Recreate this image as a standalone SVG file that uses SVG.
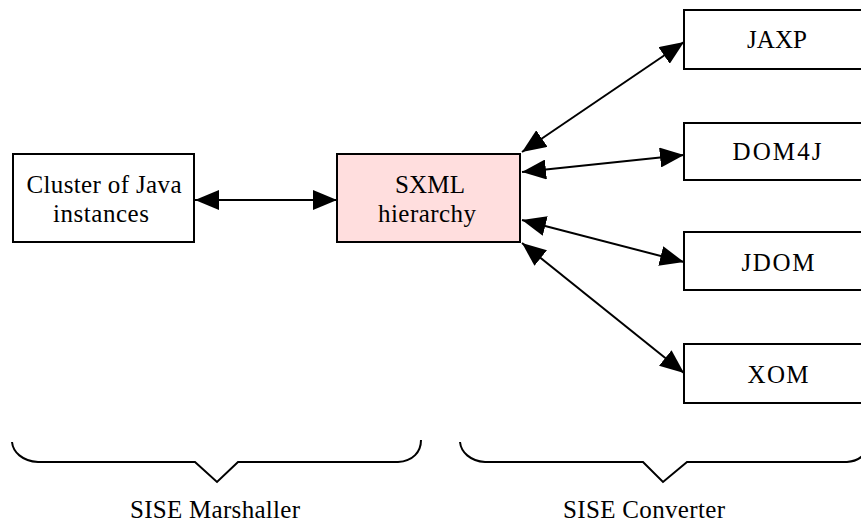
<svg xmlns="http://www.w3.org/2000/svg" width="861" height="523" viewBox="0 0 861 523">
<style>
.box{fill:#ffffff;stroke:#000;stroke-width:2}
.pink{fill:#ffdede;stroke:#000;stroke-width:2}
.t{font-family:"Liberation Serif","Times New Roman",serif;font-size:25px;fill:#000;text-anchor:middle}
.conn{stroke:#000;stroke-width:2;fill:none;marker-start:url(#ah);marker-end:url(#ah)}
.brace{stroke:#000;stroke-width:2;fill:none}
</style>
<defs>
<marker id="ah" markerUnits="userSpaceOnUse" markerWidth="24" markerHeight="20" viewBox="0 0 24 20" refX="24" refY="10" orient="auto-start-reverse">
<path d="M0,0 L24,10 L0,20 z" fill="#000"/>
</marker>
</defs>
<rect width="861" height="523" fill="#fff"/>
<g id="cluster">
<rect class="box" x="13" y="154" width="181" height="88"/>
<text class="t" x="104" y="193" textLength="155" lengthAdjust="spacing">Cluster of Java</text>
<text class="t" x="101" y="222" textLength="96" lengthAdjust="spacing">instances</text>
</g>
<g id="sxml">
<rect class="pink" x="337" y="154" width="183" height="88"/>
<text class="t" x="430" y="193" textLength="70" lengthAdjust="spacing">SXML</text>
<text class="t" x="427" y="222" textLength="98" lengthAdjust="spacing">hierarchy</text>
</g>
<g id="jaxp">
<rect class="box" x="684" y="10" width="200" height="59"/>
<text class="t" x="777" y="48" textLength="60" lengthAdjust="spacing">JAXP</text>
</g>
<g id="dom4j">
<rect class="box" x="684" y="123" width="200" height="57"/>
<text class="t" x="777" y="160" textLength="89" lengthAdjust="spacing">DOM4J</text>
</g>
<g id="jdom">
<rect class="box" x="684" y="232" width="200" height="58"/>
<text class="t" x="778" y="271" textLength="73" lengthAdjust="spacing">JDOM</text>
</g>
<g id="xom">
<rect class="box" x="684" y="344" width="200" height="59"/>
<text class="t" x="778" y="383" textLength="61" lengthAdjust="spacing">XOM</text>
</g>
<g id="connectors">
<line class="conn" x1="195" y1="200" x2="337" y2="200"/>
<line class="conn" x1="522" y1="152" x2="684" y2="42"/>
<line class="conn" x1="522" y1="172" x2="684" y2="155"/>
<line class="conn" x1="522" y1="220" x2="684" y2="262"/>
<line class="conn" x1="522" y1="243" x2="684" y2="373"/>
</g>
<g id="marshaller">
<path class="brace" d="M12,442 C13,452 22,461 38,462 L195,462 L217,482 L238,462 L398,462 C413,461 421,452 421,440"/>
<text class="t" x="215" y="518" textLength="170" lengthAdjust="spacing">SISE Marshaller</text>
</g>
<g id="converter">
<path class="brace" d="M460,442 C461,452 470,461 485,462 L643,462 L663,482 L687,462 L847,462 C861,461 869,452 869,440"/>
<text class="t" x="644" y="518" textLength="162" lengthAdjust="spacing">SISE Converter</text>
</g>
</svg>
